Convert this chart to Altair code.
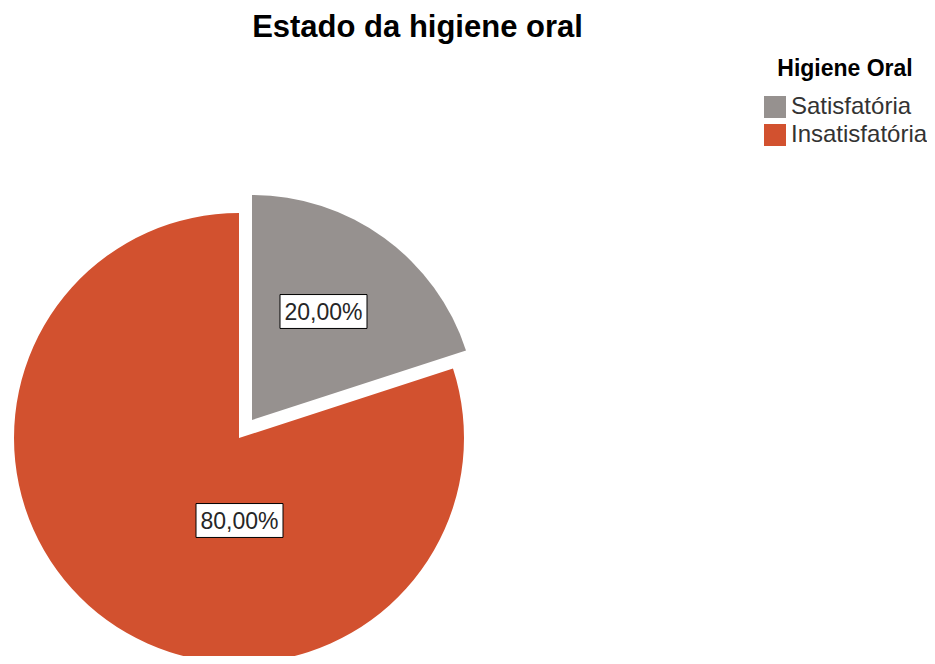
import altair as alt
import pandas as pd

# ---- data ----
categorias = ["Satisfatória", "Insatisfatória"]
percentuais = [20.0, 80.0]
ordem = [0, 1]
cores = ["#96918F", "#D2512F"]

df = pd.DataFrame({"categoria": categorias, "pct": percentuais, "ordem": ordem})

FONT = "Liberation Sans"
RADIUS = 225

base = (
    alt.Chart(df)
    .transform_joinaggregate(total="sum(pct)")
    .transform_window(cum="sum(pct)", sort=[alt.SortField("ordem")])
    .transform_calculate(
        t0="(datum.cum - datum.pct) / datum.total * 2 * PI",
        t1="datum.cum / datum.total * 2 * PI",
        rotulo="replace(format(datum.pct, '.2f'), '.', ',') + '%'",
    )
)

color = alt.Color(
    "categoria:N",
    scale=alt.Scale(domain=categorias, range=cores),
    legend=alt.Legend(
        title="Higiene Oral",
        orient="none",
        legendX=755,
        legendY=0,
        titleFont=FONT,
        titleFontSize=23,
        titleFontWeight="bold",
        titleColor="black",
        titleAnchor="middle",
        titlePadding=14,
        labelFont=FONT,
        labelFontSize=24,
        labelColor="#333333",
        labelOffset=4,
        symbolType="square",
        symbolSize=484,
        symbolStrokeWidth=0,
        symbolOpacity=1,
        rowPadding=4,
    ),
)


def fatia(cat, cx, cy):
    return (
        base.transform_filter(alt.datum.categoria == cat)
        .mark_arc(radius=RADIUS, opacity=1)
        .encode(
            theta=alt.Theta("t0:Q", scale=None, stack=None),
            theta2="t1:Q",
            color=color,
            x=alt.value(cx),
            y=alt.value(cy),
        )
    )


BOX = "M-1,-0.39L1,-0.39L1,0.39L-1,0.39Z"


def rotulo(cat, lx, ly):
    sub = base.transform_filter(alt.datum.categoria == cat)
    box = sub.mark_point(
        shape=BOX, size=87 * 87, filled=True, fill="white", stroke="black",
        strokeWidth=1, opacity=1,
    ).encode(x=alt.value(lx), y=alt.value(ly))
    txt = sub.mark_text(
        font=FONT, fontSize=23, color="#262626", align="center", baseline="middle",
    ).encode(text="rotulo:N", x=alt.value(lx), y=alt.value(ly + 1))
    return box + txt


chart = alt.layer(
    fatia("Insatisfatória", 231, 380),
    fatia("Satisfatória", 244, 362),
    rotulo("Satisfatória", 315.5, 253.5),
    rotulo("Insatisfatória", 231.5, 462.5),
).properties(
    width=919,
    height=598,
    autosize=alt.AutoSizeParams(type="none"),
    padding={"left": 0, "top": 50, "right": 0, "bottom": 0},
    title=alt.TitleParams(
        "Estado da higiene oral",
        font=FONT,
        fontSize=31,
        fontWeight="bold",
        color="black",
        anchor="middle",
        dx=-50,
        dy=-10,
    ),
).configure_view(stroke=None)

chart.save("out.html", embed_options={"renderer": "svg", "actions": False})
